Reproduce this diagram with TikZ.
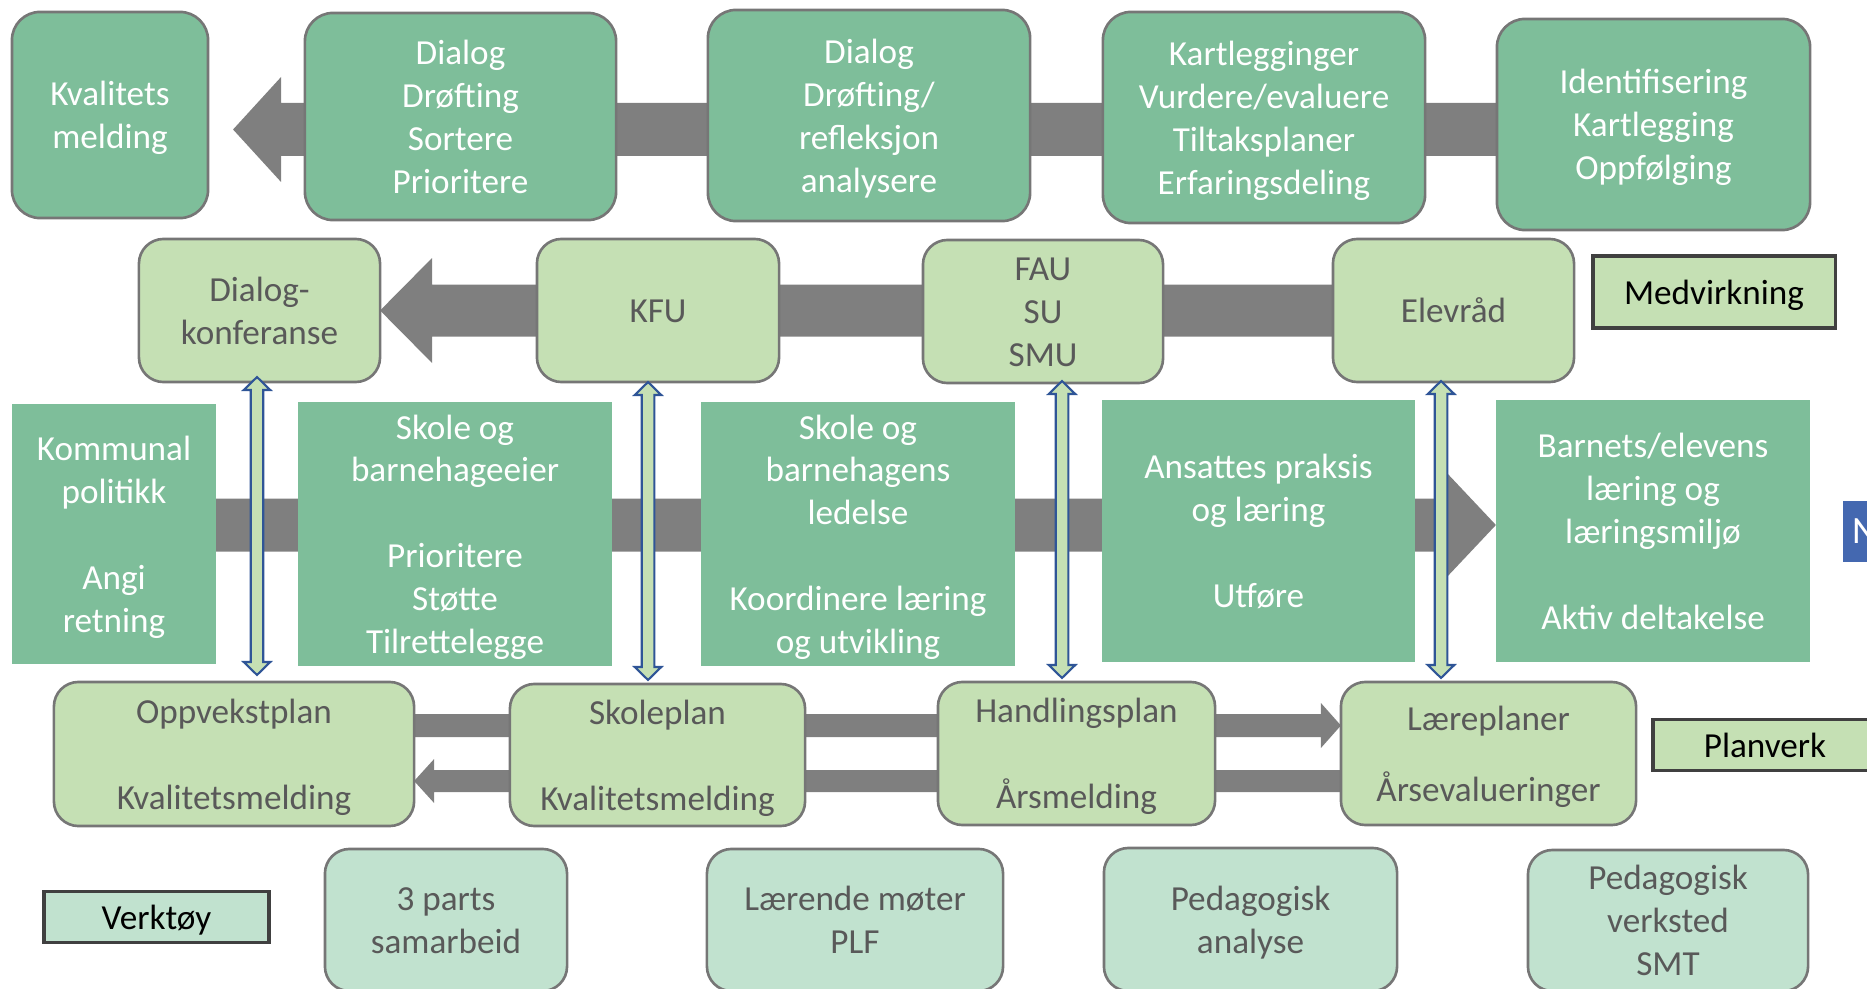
\documentclass[tikz,border=0pt]{standalone}
\usepackage{fontspec}
\setmainfont{Carlito}
\usetikzlibrary{calc,backgrounds}
\definecolor{darkg}{RGB}{126,190,154}
\definecolor{lightg}{RGB}{197,224,180}
\definecolor{mint}{RGB}{193,226,207}
\definecolor{arrgrey}{RGB}{127,127,127}
\definecolor{bordgrey}{RGB}{118,118,118}
\definecolor{labgrey}{RGB}{64,64,64}
\definecolor{textgrey}{RGB}{89,89,89}
\definecolor{dblue}{RGB}{47,85,151}
\definecolor{nblue}{RGB}{68,104,176}
\newcommand\boxfont{\fontsize{10}{12.2}\selectfont}
% text block: lines at fixed spacing, centred like line boxes
\newcommand\tx[1]{\begin{tabular}{@{}c@{}}\rule{0pt}{10.66pt}#1\end{tabular}}
% box node from corner (x1,y1) to (x2,y2) in pixel units
\newcommand\bx[7]{\node[#2, minimum width={(#5-#3)*0.28453pt}, minimum height={(#6-#4)*0.28453pt}] (#1) at ({(#3+#5)/2},{(#4+#6)/2}) {\tx{#7}};}
% horizontal block arrow: tail node, tip coordinate, half shaft, half head, head length (negative = pointing right)
\newcommand\harr[5]{\fill[arr] (#2) -- ($(#2)+(#5,-#4)$) -- ($(#2)+(#5,-#3)$) -- ($(#1|-#2)+(0,-#3)$) -- ($(#1|-#2)+(0,#3)$) -- ($(#2)+(#5,#3)$) -- ($(#2)+(#5,#4)$) -- cycle;}
% vertical double arrow between two coordinates
\newcommand\varr[2]{\filldraw[dbl] (#1) -- ($(#1)+(13.3,13)$) -- ($(#1)+(6.3,13)$) -- ($(#1|-#2)+(6.3,-13)$) -- ($(#1|-#2)+(13.3,-13)$) -- (#1|-#2) -- ($(#1|-#2)+(-13.3,-13)$) -- ($(#1|-#2)+(-6.3,-13)$) -- ($(#1)+(-6.3,13)$) -- ($(#1)+(-13.3,13)$) -- cycle;}
\begin{document}
\begin{tikzpicture}[x=0.01cm,y=-0.01cm,
  base/.style={inner sep=0pt, outer sep=0pt, font=\boxfont},
  tbox/.style={base, draw=bordgrey, line width=0.75pt, fill=darkg, rounded corners=8pt, text=white},
  mbox/.style={base, draw=bordgrey, line width=0.75pt, fill=lightg, rounded corners=7pt, text=textgrey},
  tool/.style={mbox, fill=mint},
  rbox/.style={base, fill=darkg, text=white},
  lbox/.style={base, draw=labgrey, line width=0.9pt, fill=lightg, text=black},
  vbox/.style={lbox, fill=mint},
  arr/.style={fill=arrgrey},
  dbl/.style={draw=dblue, line width=0.6pt, fill=lightg, line join=miter}]
\useasboundingbox (0,0) rectangle (1867,988);
\clip (0,0) rectangle (1867,988);

% top row
\bx{kval}{tbox}{12}{12}{208}{218}{Kvalitets\\melding}
\bx{dia1}{tbox}{305}{13}{616}{220}{Dialog\\Drøfting\\Sortere\\Prioritere}
\bx{dia2}{tbox}{708}{10}{1030}{221}{Dialog\\Drøfting/\\refleksjon\\analysere}
\bx{kart}{tbox}{1103}{12}{1425}{223}{Kartlegginger\\Vurdere/evaluere\\Tiltaksplaner\\Erfaringsdeling}
\bx{iden}{tbox}{1497}{19}{1810}{230}{Identifisering\\Kartlegging\\Oppfølging}

% row 2
\bx{dk}{mbox}{139}{239}{380}{382}{Dialog-\\konferanse}
\bx{kfu}{mbox}{537}{239}{779}{382}{KFU}
\bx{fau}{mbox}{923}{240}{1163}{383}{FAU\\SU\\SMU}
\bx{elev}{mbox}{1333}{239}{1574}{382}{Elevråd}
\bx{medv}{lbox}{1593}{256}{1835}{328}{Medvirkning}

% row 3
\bx{kom}{rbox}{12}{404}{216}{664}{Kommunal\\politikk\\ \\Angi\\retning}
\bx{eier}{rbox}{298}{403}{612}{665}{Skole og\\barnehageeier\\ \\Prioritere\\Støtte\\Tilrettelegge}
\bx{led}{rbox}{701}{403}{1015}{665}{Skole og\\barnehagens\\ledelse\\ \\Koordinere læring\\og utvikling}
\bx{ans}{rbox}{1102}{400}{1415}{662}{Ansattes praksis\\og læring\\ \\Utføre}
\bx{bar}{rbox}{1496}{400}{1810}{662}{Barnets/elevens\\læring og\\læringsmiljø\\ \\Aktiv deltakelse}
\node[fill=nblue, text=white, font=\fontsize{11}{13}\selectfont, anchor=west, inner sep=0pt, minimum height=61*0.2845pt, minimum width=40*0.2845pt, text width=30*0.2845pt, align=right] (nb) at (1842,531.5) {N};

% row 4
\bx{op}{mbox}{54}{682}{414}{826}{Oppvekstplan\\ \\Kvalitetsmelding}
\bx{sk}{mbox}{510}{684}{805}{826}{Skoleplan\\ \\Kvalitetsmelding}
\bx{hp}{mbox}{938}{682}{1215}{825}{Handlingsplan\\ \\Årsmelding}
\bx{lp}{mbox}{1341}{682}{1636}{825}{Læreplaner\\[8pt]Årsevalueringer}
\bx{plan}{lbox}{1653}{722}{1877}{768}{Planverk}

% row 5
\bx{verk}{vbox}{44}{893}{269}{941}{Verktøy}
\bx{t1}{tool}{325}{849}{567}{991}{3 parts\\samarbeid}
\bx{t2}{tool}{707}{849}{1003}{991}{Lærende møter\\PLF}
\bx{t3}{tool}{1104}{848}{1397}{991}{Pedagogisk\\analyse}
\bx{t4}{tool}{1528}{850}{1808}{991}{Pedagogisk\\verksted\\SMT}

% grey block arrows behind
\coordinate (tA) at ($(kval.east)+(25,14.5)$);
\coordinate (tC) at ($(bar.west)+(0,-6)$);
\coordinate (tD) at ($(lp.west)+(0,-28)$);
\coordinate (tE) at ($(op.east)+(0,27)$);
\begin{pgfonlayer}{background}
\harr{iden.center}{tA}{26.5}{52.5}{48}
\harr{elev.center}{dk.east}{26}{52.5}{52}
\harr{kom.center}{tC}{26.5}{52}{-49}
\harr{op.center}{tD}{11.5}{22.5}{-20}
\harr{lp.center}{tE}{11}{22}{20}
\end{pgfonlayer}

% vertical double arrows
\coordinate (a1) at ($(dk.south)+(-2.5,-5)$);
\coordinate (b1) at ($(op.north)+(0,-7)$);
\coordinate (a2) at ($(kfu.south)+(-10,0)$);
\coordinate (b2) at ($(sk.north)+(0,-4)$);
\coordinate (a3) at ($(fau.south)+(19,-2)$);
\coordinate (b3) at ($(hp.north)+(0,-4)$);
\coordinate (a4) at ($(elev.south)+(-12.5,-1)$);
\coordinate (b4) at ($(lp.north)+(0,-4)$);
\varr{a1}{b1}
\varr{a2}{b2}
\varr{a3}{b3}
\varr{a4}{b4}
\end{tikzpicture}
\end{document}
